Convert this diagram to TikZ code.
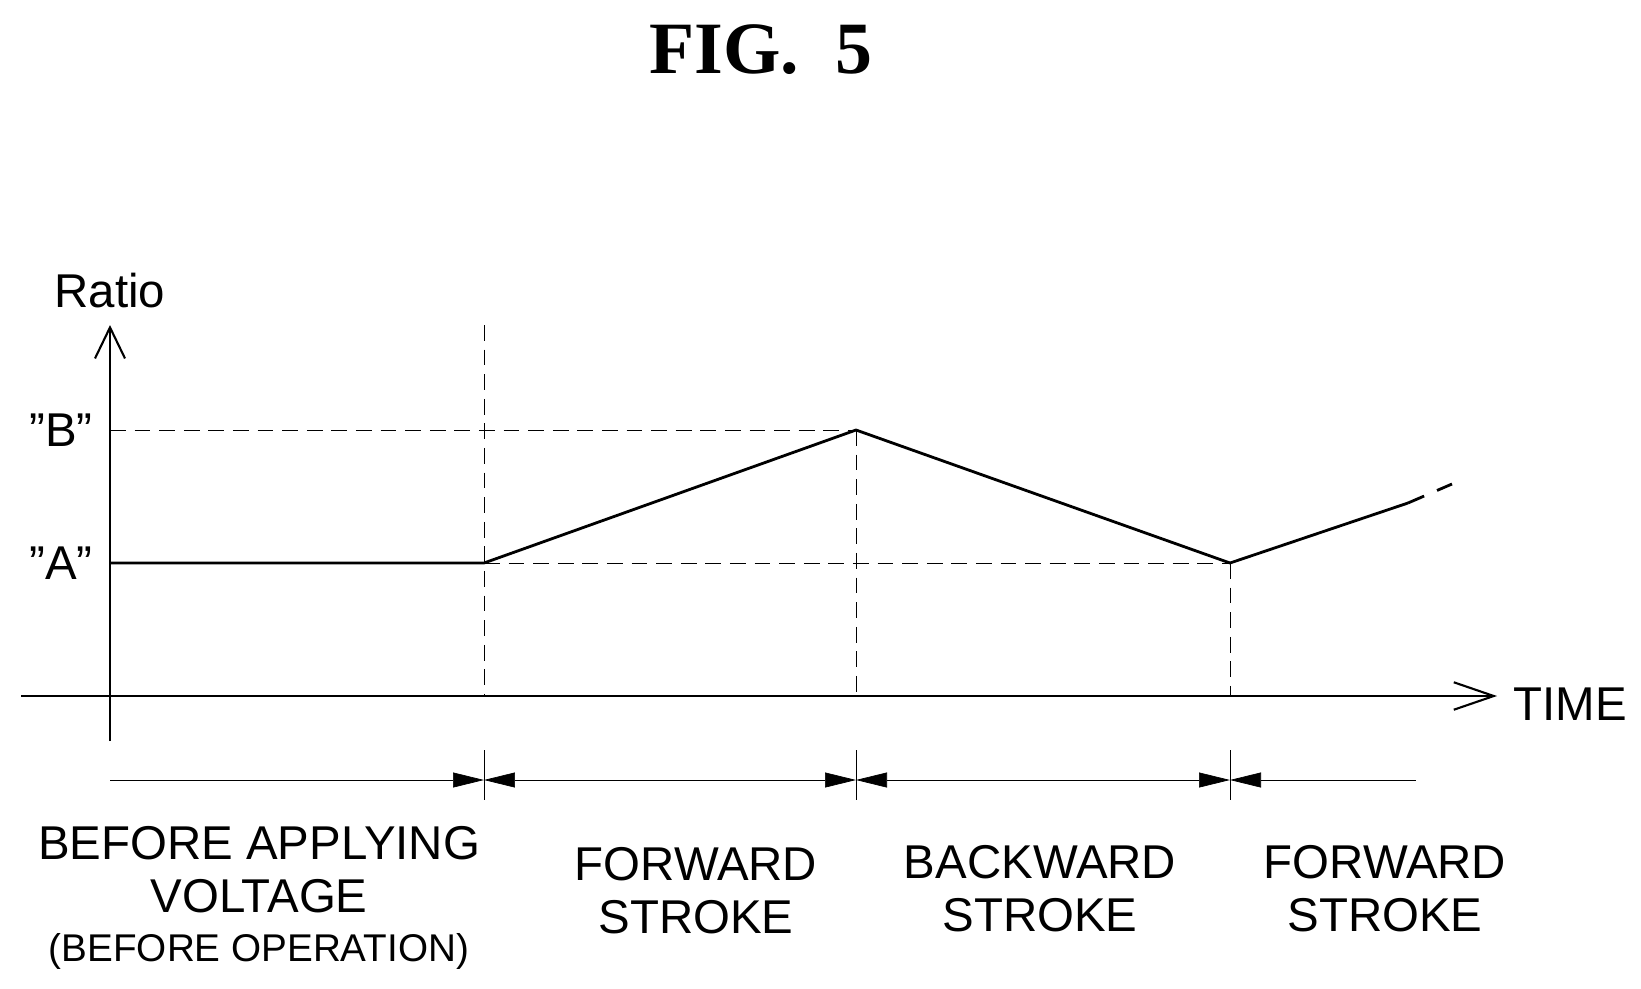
\documentclass[tikz,border=0pt]{standalone}
\usepackage{fontspec}
\setmainfont{Liberation Serif}
\setsansfont{Liberation Sans}
\usetikzlibrary{arrows.meta}
\begin{document}
\begin{tikzpicture}[x=0.02cm,y=-0.02cm,
    curve/.style={line width=1.6pt},
    guide/.style={thin,dash pattern=on 9pt off 5pt},
    lbl/.style={font=\sffamily\fontsize{27}{30}\selectfont,align=center},
    dim/.style={thin,-{Triangle[length=0.62cm,width=0.3cm]}}]
    \useasboundingbox (0,0) rectangle (1641,988);

    % Define points
    \coordinate (O) at (110,696); \coordinate (Ytop) at (110,325); \coordinate (Ybot) at (110,741);
    \coordinate (Xl) at (21,696); \coordinate (Xr) at (1497,696);
    \coordinate (A0) at (110,563); \coordinate (A1) at (484,563); \coordinate (Bp) at (856,430);
    \coordinate (A2) at (1230,563); \coordinate (E1) at (1408,503); \coordinate (E2) at (1452,484);
    \coordinate (T1) at (484,325); \coordinate (T2) at (856,430); \coordinate (T3) at (1230,563);
    \coordinate (D0) at (110,780); \coordinate (D1) at (484,780); \coordinate (D2) at (856,780);
    \coordinate (D3) at (1230,780); \coordinate (D4) at (1416,780);

    \node[font=\bfseries\fontsize{42}{46}\selectfont] (fig) at (761,50) {FIG.\ \ 5};

    % Draw axes
    \draw[line width=1.2pt,-{Straight Barb[length=0.62cm,width=0.6cm]}] (Ybot)--(Ytop);
    \draw[line width=1.2pt,-{Straight Barb[length=0.8cm,width=0.55cm]}] (Xl)--(Xr);
    \node[lbl] (ratio) at (110,291) {Ratio};
    \node[lbl] (time) at (1570,704) {TIME};
    \node[lbl] (lB) at (61,430) {"B"};
    \node[lbl] (lA) at (61,563) {"A"};

    % Draw guides
    \draw[guide] (110,430)--(Bp);
    \draw[guide] (A1)--(A2);
    \draw[guide] (T1)--(484,696);
    \draw[guide] (T2)--(856,696);
    \draw[guide] (T3)--(1230,696);

    % Draw ratio curve
    \draw[curve] (A0)--(A1)--(Bp)--(A2)--(E1);
    \draw[curve,dash pattern=on 10pt off 8pt] (E1)--(E2);

    % Draw periods
    \foreach \p in {D1,D2,D3} \draw[thin] ([yshift=0.6cm]\p)--([yshift=-0.4cm]\p);
    \draw[dim] (D0)--(D1);
    \draw[dim,{Triangle[length=0.62cm,width=0.3cm]}-{Triangle[length=0.62cm,width=0.3cm]}] (D1)--(D2);
    \draw[dim,{Triangle[length=0.62cm,width=0.3cm]}-{Triangle[length=0.62cm,width=0.3cm]}] (D2)--(D3);
    \draw[dim,{Triangle[length=0.62cm,width=0.3cm]}-] (D3)--(D4);

    % Add period labels
    \node[lbl] (before) at (259,870) {BEFORE APPLYING\\VOLTAGE};
    \node[lbl,font=\sffamily\fontsize{22}{26}\selectfont] (oper) at (259,951) {(BEFORE OPERATION)};
    \node[lbl] (fwd1) at (696,891) {FORWARD\\STROKE};
    \node[lbl] (bwd) at (1040,889) {BACKWARD\\STROKE};
    \node[lbl] (fwd2) at (1385,889) {FORWARD\\STROKE};
\end{tikzpicture}
\end{document}
